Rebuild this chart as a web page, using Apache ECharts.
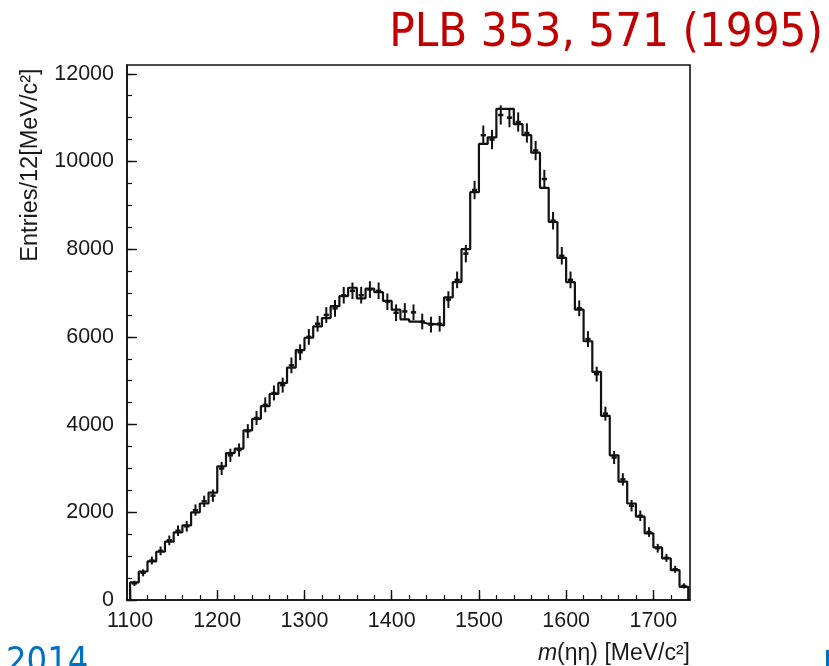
<!DOCTYPE html>
<html>
<head>
<meta charset="utf-8">
<script src="https://cdn.jsdelivr.net/npm/echarts@6/dist/echarts.min.js"></script>
<style>
html,body{margin:0;padding:0;background:#fff;}
#chart{width:829px;height:666px;}
</style>
</head>
<body>
<div id="chart"></div>
<script>
// Bin lower edges (MeV/c^2)
const binLow = [1100,1110,1120,1130,1140,1150,1160,1170,1180,1190,
  1200,1210,1220,1230,1240,1250,1260,1270,1280,1290,
  1300,1310,1320,1330,1340,1350,1360,1370,1380,1390,
  1400,1410,1420,1430,1440,1450,1460,1470,1480,1490,
  1500,1510,1520,1530,1540,1550,1560,1570,1580,1590,
  1600,1610,1620,1630,1640,1650,1660,1670,1680,1690,
  1700,1710,1720,1730];
const binHigh = 1740;
// Histogram (fit) contents
const histVals = [400,650,880,1100,1330,1540,1700,2000,2200,2450,
  3050,3350,3450,3870,4130,4420,4700,4950,5300,5700,
  5980,6240,6430,6700,6930,7120,6880,7100,7020,6820,
  6620,6400,6350,6310,6290,6260,6900,7250,8000,9300,
  10400,10550,11200,11200,10850,10600,10200,9400,8620,7800,
  7250,6620,5900,5200,4200,3300,2700,2200,1900,1520,
  1200,950,680,300];
// Data points
const dataVals = [380,620,900,1120,1360,1580,1680,2050,2250,2380,
  3000,3300,3420,3850,4150,4450,4720,4900,5350,5650,
  6000,6300,6500,6650,6950,7050,6950,7080,7050,6800,
  6550,6580,6560,6350,6280,6300,6850,7300,7900,9350,
  10600,10500,11060,11000,10900,10650,10250,9600,8650,7850,
  7300,6650,5950,5150,4250,3250,2750,2150,1920,1550,
  1180,960,700,320];
const dataErrs = [60,80,90,100,110,120,120,130,130,140,
  150,150,150,160,160,170,170,170,180,180,
  180,180,180,190,190,190,190,190,190,190,
  190,190,180,180,180,180,190,190,200,210,
  220,220,220,220,220,220,220,210,200,200,
  190,180,180,170,160,150,140,130,120,110,
  100,90,80,60];
const binHalf = [5];
const xTickLabels = [1100,1200,1300,1400,1500,1600,1700];
const yTickLabels = [0,2000,4000,6000,8000,10000,12000];

const xMin = 1096.5, xMax = 1742, yMin = 0, yMax = 12200;

// step line points
const stepData = [[binLow[0], 0]];
for (let i = 0; i < binLow.length; i++) stepData.push([binLow[i], histVals[i]]);
stepData.push([binHigh, histVals[histVals.length - 1]]);
stepData.push([binHigh, 0]);

const pts = binLow.map((b, i) => [b + binHalf[0], dataVals[i], dataErrs[i]]);

const xMinor = [];
for (let v = 1100; v <= 1740; v += 20) xMinor.push(v);
const yMinor = [];
for (let v = 0; v <= 12000; v += 500) yMinor.push(v);

const chart = echarts.init(document.getElementById('chart'), null, {renderer: 'canvas'});
const plain = v => String(Math.round(v));
const labelFont = {fontFamily: 'Liberation Sans, Arial, sans-serif', fontSize: 21.5, color: '#1a1a1a', formatter: plain};
const option = {
  backgroundColor: '#fff',
  animation: false,
  grid: {left: 127, right: 139, top: 65, bottom: 66, show: true, borderColor: '#111', borderWidth: 1.6, backgroundColor: 'transparent'},
  xAxis: [{
    type: 'value', min: xMin, max: xMax, position: 'bottom',
    axisLine: {show: true, lineStyle: {color: '#111', width: 1.6}},
    splitLine: {show: false},
    axisTick: {show: true, inside: true, length: 10, customValues: xTickLabels, lineStyle: {color: '#111', width: 1.4}},
    axisLabel: Object.assign({show: true, margin: 10, customValues: xTickLabels}, labelFont)
  }, {
    type: 'value', min: xMin, max: xMax, position: 'bottom',
    axisLine: {show: false}, splitLine: {show: false}, axisLabel: {show: false},
    axisTick: {show: true, inside: true, length: 5, customValues: xMinor, lineStyle: {color: '#111', width: 1.2}}
  }],
  yAxis: [{
    type: 'value', min: yMin, max: yMax, position: 'left',
    axisLine: {show: true, lineStyle: {color: '#111', width: 1.6}},
    splitLine: {show: false},
    axisTick: {show: true, inside: true, length: 10, customValues: yTickLabels, lineStyle: {color: '#111', width: 1.4}},
    axisLabel: Object.assign({show: true, margin: 13, customValues: yTickLabels}, labelFont)
  }, {
    type: 'value', min: yMin, max: yMax, position: 'left',
    axisLine: {show: false}, splitLine: {show: false}, axisLabel: {show: false},
    axisTick: {show: true, inside: true, length: 5, customValues: yMinor, lineStyle: {color: '#111', width: 1.2}}
  }],
  series: [{
    type: 'line', xAxisIndex: 0, yAxisIndex: 0, step: 'end', data: stepData,
    symbol: 'none', lineStyle: {color: '#111', width: 2.2}, z: 3
  }, {
    type: 'custom', xAxisIndex: 0, yAxisIndex: 0, data: pts, z: 4,
    renderItem: function (params, api) {
      const x = api.value(0), y = api.value(1), e = api.value(2);
      const l = api.coord([x - 3, y]), r = api.coord([x + 3, y]);
      const lo = api.coord([x, y - e]), hi = api.coord([x, y + e]);
      return {type: 'group', children: [
        {type: 'line', shape: {x1: l[0], y1: l[1], x2: r[0], y2: r[1]}, style: {stroke: '#111', lineWidth: 2.5}},
        {type: 'line', shape: {x1: lo[0], y1: lo[1], x2: hi[0], y2: hi[1]}, style: {stroke: '#111', lineWidth: 2}}
      ]};
    }
  }],
  graphic: [{
    type: 'text', right: 6, top: 10,
    style: {text: 'PLB 353, 571 (1995)', fontFamily: "'DejaVu Sans Condensed', 'DejaVu Sans', sans-serif", fontSize: 47, fill: '#c00000'}
  }, {
    type: 'text', left: 6, top: 645,
    style: {text: '2014', fontFamily: "'DejaVu Sans Condensed', 'DejaVu Sans', sans-serif", fontSize: 36, fill: '#0070c0'}
  }, {
    type: 'text', x: 31, y: 165, rotation: Math.PI / 2,
    style: {text: 'Entries/12[MeV/c²]', fontFamily: 'Liberation Sans, Arial, sans-serif', fontSize: 23.5, fill: '#1a1a1a', align: 'center', verticalAlign: 'middle'}
  }, {
    type: 'text', x: 690, y: 654,
    style: {
      text: '{i|m}(ηη) [MeV/c²]', align: 'right', verticalAlign: 'middle',
      fontFamily: 'Liberation Sans, Arial, sans-serif', fontSize: 23, fill: '#1a1a1a',
      rich: {i: {fontStyle: 'italic', fontFamily: 'Liberation Sans, Arial, sans-serif', fontSize: 23, fill: '#1a1a1a'}}
    }
  }, {
    type: 'rect', shape: {x: 826, y: 650, width: 3, height: 16}, style: {fill: '#0070c0'}
  }]
};
chart.setOption(option);
</script>
</body>
</html>
